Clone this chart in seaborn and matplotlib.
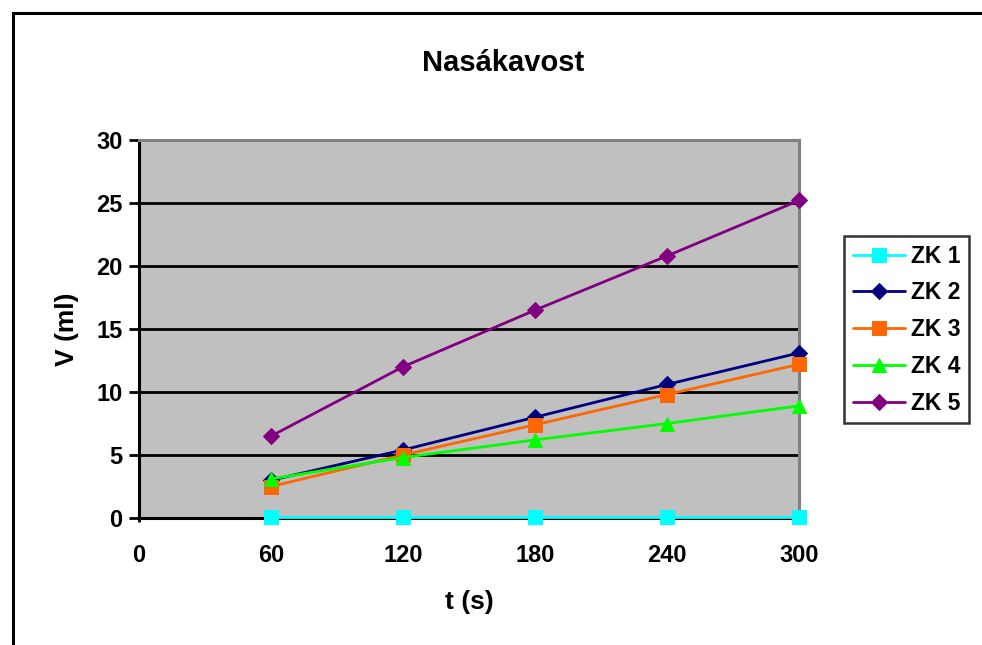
import pandas as pd
import seaborn as sns
import matplotlib.pyplot as plt
from matplotlib.patches import Rectangle

# data
times = [60, 120, 180, 240, 300]
zk1 = [0.1, 0.1, 0.1, 0.1, 0.1]
zk2 = [3.0, 5.4, 8.0, 10.6, 13.1]
zk3 = [2.5, 5.0, 7.4, 9.8, 12.2]
zk4 = [3.1, 4.8, 6.2, 7.5, 8.9]
zk5 = [6.5, 12.0, 16.5, 20.8, 25.2]
labels = ["ZK 1", "ZK 2", "ZK 3", "ZK 4", "ZK 5"]
x_ticks = [0, 60, 120, 180, 240, 300]
y_ticks = [0, 5, 10, 15, 20, 25, 30]

colors = ["#00FFFF", "#000080", "#FF6600", "#00FF00", "#800080"]
markers = ["s", "D", "s", "^", "D"]
msizes = [10.5, 8.0, 10.5, 9.5, 8.0]

sns.set_style("white")
plt.rcParams["font.family"] = ["Liberation Sans", "DejaVu Sans"]
plt.rcParams["font.weight"] = "bold"
plt.rcParams["text.color"] = "black"
plt.rcParams["axes.labelcolor"] = "black"
plt.rcParams["xtick.color"] = "black"
plt.rcParams["ytick.color"] = "black"

fig = plt.figure(figsize=(9.82, 6.45), dpi=100)
ax = fig.add_axes([139 / 982, 1 - 518 / 645, 660 / 982, 378 / 645])

# outer chart frame (clipped at right/bottom like the source)
fig.patches.append(Rectangle((13 / 982, -0.05), 1.0, 1 - 13 / 645 + 0.05,
                             transform=fig.transFigure, fill=False,
                             edgecolor="black", linewidth=2.2, zorder=0))

ax.set_facecolor("#C0C0C0")
for v in y_ticks[1:-1]:
    ax.axhline(v, color="black", linewidth=2.0, zorder=1)

series = [zk1, zk2, zk3, zk4, zk5]
for vals, lab, c, m, ms in zip(series, labels, colors, markers, msizes):
    df = pd.DataFrame({"t": times, "V": vals})
    sns.lineplot(data=df, x="t", y="V", ax=ax, color=c, marker=m,
                 markersize=ms, markeredgecolor=c, linewidth=2.0,
                 label=lab, zorder=3, clip_on=False)

ax.set_xlim(0, 300)
ax.set_ylim(0, 30)
ax.set_xticks(x_ticks)
ax.set_yticks(y_ticks)
ax.tick_params(axis="both", labelsize=17, direction="out", colors="black")
ax.tick_params(axis="y", length=7, width=2, pad=5)
ax.tick_params(axis="x", length=3, width=2, pad=16)
ax.xaxis.set_ticks_position("bottom")
ax.yaxis.set_ticks_position("left")

for side in ["left", "bottom"]:
    ax.spines[side].set_color("black")
    ax.spines[side].set_linewidth(2.2)
for side in ["top", "right"]:
    ax.spines[side].set_color("#808080")
    ax.spines[side].set_linewidth(2.2)

ax.set_xlabel("t (s)", fontsize=19, fontweight="bold", labelpad=16)
ax.set_ylabel("V (ml)", fontsize=19, fontweight="bold", labelpad=12)
fig.text(0.512, 1 - 63 / 645, "Nasákavost", ha="center", va="center",
         fontsize=21, fontweight="bold")

leg = ax.legend(loc="upper left", bbox_to_anchor=(844 / 982, 1 - 236 / 645),
                bbox_transform=fig.transFigure, borderaxespad=0,
                frameon=True, fancybox=False, fontsize=16.5,
                labelspacing=0.6, handlelength=2.3, handletextpad=0.25,
                borderpad=0.38)
leg.get_frame().set_edgecolor("black")
leg.get_frame().set_linewidth(1.8)
leg.get_frame().set_facecolor("white")
for t in leg.get_texts():
    t.set_fontweight("bold")

plt.savefig("out.png", dpi=100)
